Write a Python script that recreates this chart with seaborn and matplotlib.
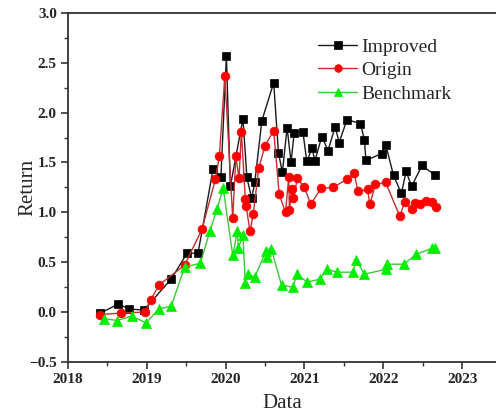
import numpy as np
import pandas as pd
import matplotlib
matplotlib.use("Agg")
import matplotlib.pyplot as plt
from matplotlib.ticker import MultipleLocator
import seaborn as sns

improved_x = [2018.41, 2018.64, 2018.78, 2018.96, 2019.31, 2019.51, 2019.65, 2019.84, 2019.94,
              2020.01, 2020.06, 2020.22, 2020.27, 2020.33, 2020.37, 2020.46, 2020.61, 2020.67,
              2020.72, 2020.78, 2020.83, 2020.87, 2020.98, 2021.03, 2021.10, 2021.13, 2021.22,
              2021.30, 2021.39, 2021.44, 2021.54, 2021.71, 2021.76, 2021.78, 2021.98, 2022.03,
              2022.13, 2022.23, 2022.29, 2022.36, 2022.49, 2022.66]
improved_y = [-0.01, 0.08, 0.03, 0.02, 0.33, 0.59, 0.59, 1.43, 1.35,
              2.57, 1.26, 1.94, 1.35, 1.14, 1.30, 1.92, 2.30, 1.60,
              1.40, 1.85, 1.50, 1.80, 1.81, 1.51, 1.65, 1.51, 1.76,
              1.62, 1.86, 1.70, 1.93, 1.89, 1.73, 1.52, 1.59, 1.68,
              1.37, 1.19, 1.41, 1.26, 1.47, 1.37]

origin_x = [2018.41, 2018.67, 2018.98, 2019.05, 2019.16, 2019.48, 2019.70, 2019.87, 2019.92,
            2019.99, 2020.09, 2020.13, 2020.17, 2020.20, 2020.25, 2020.26, 2020.31, 2020.35,
            2020.42, 2020.50, 2020.61, 2020.68, 2020.76, 2020.80, 2020.81, 2020.84, 2020.86,
            2020.91, 2021.00, 2021.08, 2021.21, 2021.36, 2021.54, 2021.63, 2021.68, 2021.80,
            2021.83, 2021.90, 2022.03, 2022.21, 2022.27, 2022.36, 2022.40, 2022.47, 2022.54,
            2022.62, 2022.67]
origin_y = [-0.025, -0.01, 0.0, 0.125, 0.275, 0.47, 0.83, 1.33, 1.56,
            2.37, 0.94, 1.56, 1.34, 1.81, 1.13, 1.06, 0.81, 0.98,
            1.44, 1.67, 1.82, 1.18, 1.00, 1.35, 1.02, 1.23, 1.14,
            1.34, 1.25, 1.08, 1.24, 1.25, 1.33, 1.39, 1.21, 1.23,
            1.08, 1.28, 1.30, 0.96, 1.10, 1.03, 1.09, 1.08, 1.11,
            1.10, 1.05]

bench_x = [2018.46, 2018.62, 2018.81, 2018.99, 2019.15, 2019.31, 2019.48, 2019.68, 2019.80,
           2019.89, 2019.97, 2020.09, 2020.15, 2020.16, 2020.22, 2020.25, 2020.28, 2020.37,
           2020.51, 2020.53, 2020.58, 2020.71, 2020.85, 2020.91, 2021.03, 2021.20, 2021.28,
           2021.41, 2021.61, 2021.66, 2021.76, 2022.04, 2022.05, 2022.26, 2022.42, 2022.62,
           2022.66]
bench_y = [-0.065, -0.085, -0.04, -0.11, 0.03, 0.06, 0.45, 0.49, 0.81,
           1.03, 1.24, 0.57, 0.81, 0.64, 0.77, 0.29, 0.38, 0.35,
           0.61, 0.55, 0.63, 0.27, 0.25, 0.38, 0.30, 0.33, 0.43,
           0.40, 0.40, 0.52, 0.38, 0.43, 0.48, 0.48, 0.58, 0.64,
           0.64]

year_ticks = [2018, 2019, 2020, 2021, 2022, 2023]

df = pd.concat([
    pd.DataFrame({"Data": improved_x, "Return": improved_y, "Series": "Improved"}),
    pd.DataFrame({"Data": origin_x, "Return": origin_y, "Series": "Origin"}),
    pd.DataFrame({"Data": bench_x, "Return": bench_y, "Series": "Benchmark"}),
], ignore_index=True)

sns.set_style("ticks")
plt.rcParams["font.family"] = ["Liberation Serif", "DejaVu Serif"]

fig = plt.figure(figsize=(4.96, 4.16), dpi=100)
ax = fig.add_axes([0.137, 0.130, 0.863, 0.839])

styles = {
    "Improved": dict(marker="s", mfc="black", mec="black", ms=6.3, lc="#1a1a1a"),
    "Origin": dict(marker="o", mfc="#ff0000", mec="#ff0000", ms=6.3, lc="#c03030"),
    "Benchmark": dict(marker="^", mfc="#00ee00", mec="#00ee00", ms=7.0, lc="#3cc83c"),
}
for name in ["Improved", "Origin", "Benchmark"]:
    st = styles[name]
    sub = df[df["Series"] == name]
    sns.lineplot(data=sub, x="Data", y="Return", ax=ax, sort=False, estimator=None,
                 color=st["lc"], lw=1.0, marker=st["marker"], markersize=st["ms"],
                 markerfacecolor=st["mfc"], markeredgecolor=st["mec"], markeredgewidth=0.5,
                 label=name)

ax.set_xlim(2018, 2023.43)
ax.set_ylim(-0.5, 3.0)
ax.xaxis.set_major_locator(MultipleLocator(1))
ax.xaxis.set_minor_locator(MultipleLocator(0.5))
ax.yaxis.set_major_locator(MultipleLocator(0.5))
ax.yaxis.set_minor_locator(MultipleLocator(0.25))
ax.set_xticks(year_ticks)
ax.set_xticklabels([str(y) for y in year_ticks])
ax.tick_params(which="major", direction="out", length=5, width=1.2, color="#333333",
               labelsize=11, pad=3)
ax.tick_params(which="minor", direction="out", length=3, width=1.0, color="#333333")
for lab in ax.get_xticklabels() + ax.get_yticklabels():
    lab.set_fontweight("bold")

for s in ["left", "bottom", "top"]:
    ax.spines[s].set_linewidth(1.3)
    ax.spines[s].set_color("#333333")
ax.spines["right"].set_visible(False)

ax.set_xlabel("Data", fontsize=15)
ax.set_ylabel("Return", fontsize=15)
ax.xaxis.set_label_coords(0.5, -0.093)
ax.yaxis.set_label_coords(-0.072, 0.5)

leg = ax.legend(loc="upper left", bbox_to_anchor=(0.565, 0.95), frameon=False,
                fontsize=14, handlelength=2.05, handletextpad=0.2, labelspacing=0.3,
                borderaxespad=0)
for h in leg.legend_handles:
    h.set_markersize(5.5)

fig.savefig("out.png", dpi=100)
